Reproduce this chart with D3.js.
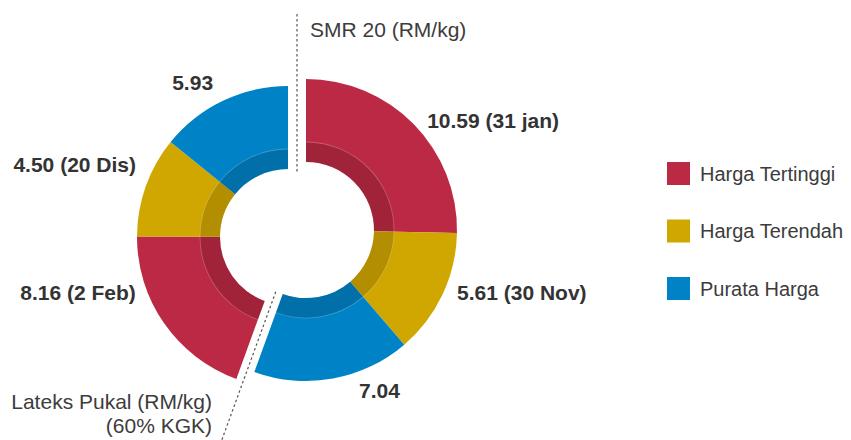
<!DOCTYPE html>
<html lang="ms">
<head>
<meta charset="UTF-8">
<title>Harga SMR 20 dan Lateks Pukal</title>
<script src="https://d3js.org/d3.v7.min.js"></script>
<style>
  body { margin: 0; background: #fff; }
  svg { display: block; font-family: "Liberation Sans", Arial, sans-serif; }
</style>
</head>
<body>
<div id="chart"></div>
<script>
// data
var groups = ["SMR 20 (RM/kg)", "Lateks Pukal (RM/kg)"];
var categories = ["Harga Tertinggi", "Harga Terendah", "Purata Harga"];
var smrValues = [10.59, 5.61, 7.04];
var smrDates = ["31 jan", "30 Nov", null];
var latexValues = [8.16, 4.50, 5.93];
var latexDates = ["2 Feb", "20 Dis", null];

var colors = ["#bc2944", "#d0a600", "#0082c6"];

var width = 851, height = 440;
var cx = 297, cy = 233.5;
var outerR = 151, bandR = 88, innerR = 68;
// each half pushed apart a little
var groupShift = [[9, -3.5], [-9, 3.5]];

// label placement: angle (deg, clockwise from top), radius, anchor
var labelLayout = [
  {a: 48, r: 163, anchor: "start"},
  {a: 112.5, r: 163.5, anchor: "start"},
  {a: 155.4, r: 176.6, anchor: "middle"},
  {a: 249.9, r: 162, anchor: "end"},
  {a: 295.5, r: 168.4, anchor: "end"},
  {a: 328.3, r: 181.5, anchor: "middle"}
];

var rows = [];
smrValues.forEach(function(v, i) {
  rows.push({group: 0, cat: i, value: v, date: smrDates[i]});
});
latexValues.forEach(function(v, i) {
  rows.push({group: 1, cat: i, value: v, date: latexDates[i]});
});

var svg = d3.select("#chart").append("svg")
  .attr("width", width)
  .attr("height", height);

var pie = d3.pie().sort(null).value(function(d) { return d.value; });
var arcs = pie(rows);

var outerArc = d3.arc().innerRadius(innerR).outerRadius(outerR);
var bandArc = d3.arc().innerRadius(innerR).outerRadius(bandR);
var edgeArc = d3.arc().innerRadius(bandR - 0.4).outerRadius(bandR + 0.4);

var slices = svg.append("g").selectAll("g")
  .data(arcs)
  .enter().append("g")
  .attr("transform", function(d) {
    var s = groupShift[d.data.group];
    return "translate(" + (cx + s[0]) + "," + (cy + s[1]) + ")";
  });

slices.append("path")
  .attr("d", outerArc)
  .attr("fill", function(d) { return colors[d.data.cat]; });

slices.append("path")
  .attr("d", bandArc)
  .attr("fill", "#000")
  .attr("fill-opacity", 0.14);

slices.append("path")
  .attr("d", edgeArc)
  .attr("fill", "#fff")
  .attr("fill-opacity", 0.25);

// value labels
svg.append("g").selectAll("text")
  .data(arcs)
  .enter().append("text")
  .attr("transform", function(d, i) {
    var s = groupShift[d.data.group];
    var L = labelLayout[i];
    var t = L.a * Math.PI / 180;
    var x = cx + s[0] + L.r * Math.sin(t);
    var y = cy + s[1] - L.r * Math.cos(t);
    return "translate(" + x + "," + y + ")";
  })
  .attr("dy", "0.35em")
  .attr("text-anchor", function(d, i) { return labelLayout[i].anchor; })
  .attr("font-size", 21)
  .attr("font-weight", "bold")
  .attr("fill", "#333")
  .text(function(d) {
    var t = d.data.value.toFixed(2);
    if (d.data.date) t += " (" + d.data.date + ")";
    return t;
  });

// separator lines between the two halves
var total = d3.sum(rows, function(d) { return d.value; });
var splitAngle = d3.sum(smrValues) / total * 2 * Math.PI;
[0, splitAngle].forEach(function(t) {
  svg.append("line")
    .attr("x1", cx + 62 * Math.sin(t))
    .attr("y1", cy - 62 * Math.cos(t))
    .attr("x2", cx + 221 * Math.sin(t))
    .attr("y2", cy - 221 * Math.cos(t))
    .attr("stroke", "#555")
    .attr("stroke-width", 1.2)
    .attr("stroke-dasharray", "2.5,2.5");
});

// group titles
svg.append("text")
  .attr("x", 310)
  .attr("y", 37)
  .attr("font-size", 21)
  .attr("fill", "#3c3c3c")
  .text(groups[0]);

var sub = svg.append("text")
  .attr("text-anchor", "end")
  .attr("font-size", 21)
  .attr("fill", "#3c3c3c");
sub.append("tspan").attr("x", 212).attr("y", 409).text(groups[1]);
sub.append("tspan").attr("x", 212).attr("y", 433).text("(60% KGK)");

// legend
var legend = svg.append("g").selectAll("g")
  .data(categories)
  .enter().append("g")
  .attr("transform", function(d, i) { return "translate(667," + (162 + i * 57.5) + ")"; });

legend.append("rect")
  .attr("width", 23)
  .attr("height", 23)
  .attr("fill", function(d, i) { return colors[i]; });

legend.append("text")
  .attr("x", 33)
  .attr("y", 11.5)
  .attr("dy", "0.35em")
  .attr("font-size", 20)
  .attr("fill", "#3c3c3c")
  .text(function(d) { return d; });
</script>
</body>
</html>
